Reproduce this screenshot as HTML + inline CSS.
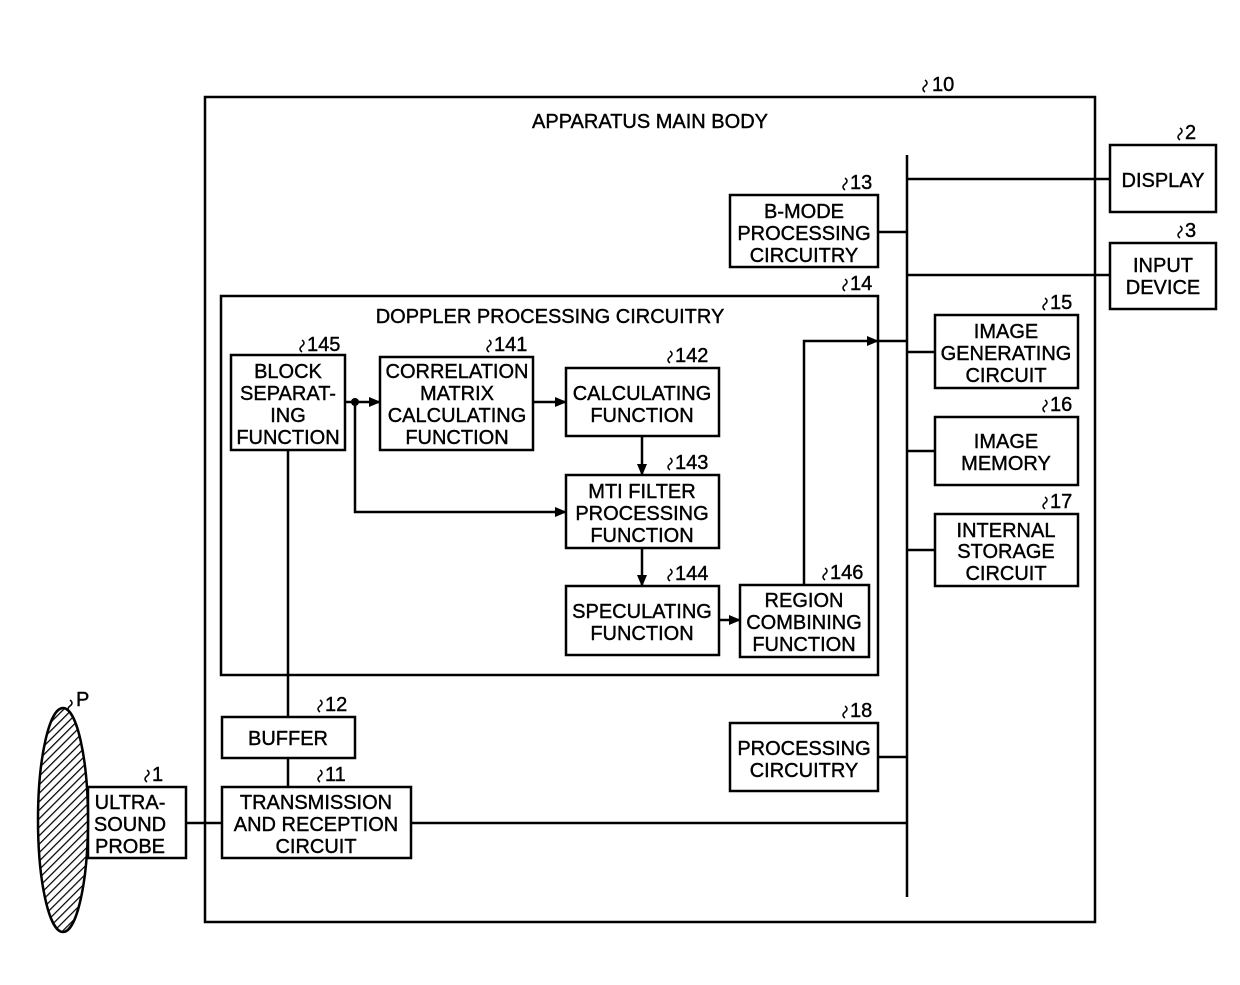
<!DOCTYPE html>
<html><head><meta charset="utf-8"><style>
html,body{margin:0;padding:0;background:#fff;}
svg text{font-family:"Liberation Sans",Arial,sans-serif;font-size:20px;fill:#000;text-anchor:middle;stroke:#000;stroke-width:0.4px;}
</style></head><body>
<svg width="1240" height="980" viewBox="0 0 1240 980" xmlns="http://www.w3.org/2000/svg">
<defs>
<marker id="a" markerWidth="12" markerHeight="10" refX="11" refY="5" orient="auto" markerUnits="userSpaceOnUse"><path d="M0,0 L12,5 L0,10 Z" fill="#000"/></marker>
<pattern id="h" width="6" height="6" patternUnits="userSpaceOnUse" patternTransform="rotate(45)"><rect width="6" height="6" fill="#fff"/><line x1="0" y1="0" x2="0" y2="6" stroke="#000" stroke-width="2.5"/></pattern>
</defs>
<g fill="none" stroke="#000" stroke-width="2.5">
<rect x="205" y="97" width="890" height="825"/>
<line x1="907" y1="155" x2="907" y2="897"/>
<rect x="1110" y="145" width="106" height="67"/>
<line x1="907" y1="179" x2="1110" y2="179"/>
<rect x="1110" y="243" width="106" height="66"/>
<line x1="907" y1="275" x2="1110" y2="275"/>
<rect x="730" y="195" width="148" height="72"/>
<line x1="878" y1="232" x2="907" y2="232"/>
<rect x="221" y="296" width="657" height="379"/>
<rect x="935" y="315" width="143" height="73"/>
<line x1="907" y1="352" x2="935" y2="352"/>
<rect x="935" y="417" width="143" height="68"/>
<line x1="907" y1="451" x2="935" y2="451"/>
<rect x="935" y="514" width="143" height="72"/>
<line x1="907" y1="550" x2="935" y2="550"/>
<rect x="730" y="723" width="148" height="68"/>
<line x1="878" y1="757" x2="907" y2="757"/>
<rect x="222" y="717" width="133" height="41"/>
<rect x="222" y="787" width="189" height="71"/>
<line x1="411" y1="823" x2="907" y2="823"/>
<rect x="88" y="787" width="98" height="71"/>
<line x1="186" y1="823" x2="222" y2="823"/>
<rect x="231" y="355" width="114" height="95"/>
<line x1="288" y1="450" x2="288" y2="717"/>
<line x1="288" y1="758" x2="288" y2="787"/>
<rect x="380" y="357" width="153" height="93"/>
<line x1="345" y1="402" x2="380" y2="402" marker-end="url(#a)"/>
<rect x="566" y="368" width="153" height="68"/>
<line x1="533" y1="402" x2="566" y2="402" marker-end="url(#a)"/>
<rect x="566" y="475" width="153" height="73"/>
<line x1="642" y1="436" x2="642" y2="475" marker-end="url(#a)"/>
<polyline points="355,402 355,512 566,512" marker-end="url(#a)"/>
<rect x="566" y="586" width="153" height="69"/>
<line x1="642" y1="548" x2="642" y2="586" marker-end="url(#a)"/>
<rect x="740" y="585" width="129" height="72"/>
<line x1="719" y1="620" x2="740" y2="620" marker-end="url(#a)"/>
<polyline points="804,585 804,341 878,341" marker-end="url(#a)"/>
<line x1="878" y1="341" x2="907" y2="341"/>
<ellipse cx="63" cy="820" rx="25" ry="112" fill="url(#h)"/>
</g>
<circle cx="355" cy="402" r="4" fill="#000"/>
<g fill="none" stroke="#000" stroke-width="1.5">
<path d="M925,92 q-4,-3 0,-6 q4,-3 0,-6"/><path d="M1180,140 q-4,-3 0,-6 q4,-3 0,-6"/><path d="M1180,238 q-4,-3 0,-6 q4,-3 0,-6"/>
<path d="M845,190 q-4,-3 0,-6 q4,-3 0,-6"/><path d="M845,291 q-4,-3 0,-6 q4,-3 0,-6"/><path d="M1045,310 q-4,-3 0,-6 q4,-3 0,-6"/>
<path d="M1045,412 q-4,-3 0,-6 q4,-3 0,-6"/><path d="M1045,509 q-4,-3 0,-6 q4,-3 0,-6"/><path d="M845,718 q-4,-3 0,-6 q4,-3 0,-6"/>
<path d="M320,712 q-4,-3 0,-6 q4,-3 0,-6"/><path d="M320,782 q-4,-3 0,-6 q4,-3 0,-6"/><path d="M147,782 q-4,-3 0,-6 q4,-3 0,-6"/>
<path d="M302,352 q-4,-3 0,-6 q4,-3 0,-6"/><path d="M489,352 q-4,-3 0,-6 q4,-3 0,-6"/><path d="M670,363 q-4,-3 0,-6 q4,-3 0,-6"/>
<path d="M670,470 q-4,-3 0,-6 q4,-3 0,-6"/><path d="M670,581 q-4,-3 0,-6 q4,-3 0,-6"/><path d="M825,580 q-4,-3 0,-6 q4,-3 0,-6"/>
<path d="M70,712 q-4,-3 0,-6 q4,-3 0,-6"/>
</g>
<g style="text-anchor:start">
<text x="932" y="91" style="text-anchor:start">10</text><text x="1185" y="139" style="text-anchor:start">2</text><text x="1185" y="237" style="text-anchor:start">3</text>
<text x="850" y="189" style="text-anchor:start">13</text><text x="850" y="290" style="text-anchor:start">14</text><text x="1050" y="309" style="text-anchor:start">15</text>
<text x="1050" y="411" style="text-anchor:start">16</text><text x="1050" y="508" style="text-anchor:start">17</text><text x="850" y="717" style="text-anchor:start">18</text>
<text x="325" y="711" style="text-anchor:start">12</text><text x="325" y="781" style="text-anchor:start">11</text><text x="152" y="781" style="text-anchor:start">1</text>
<text x="307" y="351" style="text-anchor:start">145</text><text x="494" y="351" style="text-anchor:start">141</text><text x="675" y="362" style="text-anchor:start">142</text>
<text x="675" y="469" style="text-anchor:start">143</text><text x="675" y="580" style="text-anchor:start">144</text><text x="830" y="579" style="text-anchor:start">146</text>
<text x="76" y="706" style="text-anchor:start">P</text>
</g>
<text x="650" y="128">APPARATUS MAIN BODY</text>
<text x="1163" y="187">DISPLAY</text>
<text x="1163" y="272">INPUT</text><text x="1163" y="294">DEVICE</text>
<text x="804" y="218">B-MODE</text><text x="804" y="240">PROCESSING</text><text x="804" y="262">CIRCUITRY</text>
<text x="550" y="323">DOPPLER PROCESSING CIRCUITRY</text>
<text x="1006" y="338">IMAGE</text><text x="1006" y="360">GENERATING</text><text x="1006" y="382">CIRCUIT</text>
<text x="1006" y="448">IMAGE</text><text x="1006" y="470">MEMORY</text>
<text x="1006" y="537">INTERNAL</text><text x="1006" y="558">STORAGE</text><text x="1006" y="580">CIRCUIT</text>
<text x="804" y="755">PROCESSING</text><text x="804" y="777">CIRCUITRY</text>
<text x="288" y="745">BUFFER</text>
<text x="316" y="809">TRANSMISSION</text><text x="316" y="831">AND RECEPTION</text><text x="316" y="853">CIRCUIT</text>
<text x="130" y="809">ULTRA-</text><text x="130" y="831">SOUND</text><text x="130" y="853">PROBE</text>
<text x="288" y="378">BLOCK</text><text x="288" y="400">SEPARAT-</text><text x="288" y="422">ING</text><text x="288" y="444">FUNCTION</text>
<text x="457" y="378">CORRELATION</text><text x="457" y="400">MATRIX</text><text x="457" y="422">CALCULATING</text><text x="457" y="444">FUNCTION</text>
<text x="642" y="400">CALCULATING</text><text x="642" y="422">FUNCTION</text>
<text x="642" y="498">MTI FILTER</text><text x="642" y="520">PROCESSING</text><text x="642" y="542">FUNCTION</text>
<text x="642" y="618">SPECULATING</text><text x="642" y="640">FUNCTION</text>
<text x="804" y="607">REGION</text><text x="804" y="629">COMBINING</text><text x="804" y="651">FUNCTION</text>
</svg>
</body></html>
